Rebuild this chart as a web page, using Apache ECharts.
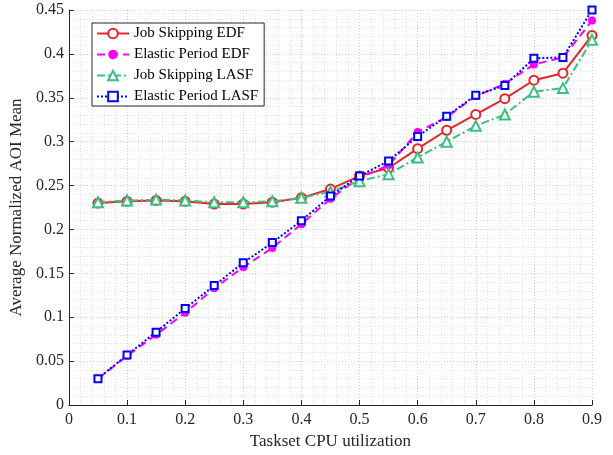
<!DOCTYPE html>
<html>
<head>
<meta charset="utf-8">
<script src="https://cdn.jsdelivr.net/npm/echarts@6/dist/echarts.min.js"></script>
<style>html,body{margin:0;padding:0;background:#fff;}#c{width:613px;height:455px;}</style>
</head>
<body>
<div id="c"></div>
<script>
const utilization = [0.05,0.1,0.15,0.2,0.25,0.3,0.35,0.4,0.45,0.5,0.55,0.6,0.65,0.7,0.75,0.8,0.85,0.9];
const jobSkippingEDF = [0.230,0.232,0.233,0.232,0.229,0.229,0.231,0.236,0.246,0.261,0.270,0.292,0.313,0.331,0.349,0.370,0.378,0.421];
const elasticPeriodEDF = [0.030,0.056,0.080,0.105,0.133,0.157,0.179,0.206,0.235,0.259,0.273,0.311,0.328,0.352,0.366,0.388,0.396,0.438];
const jobSkippingLASF = [0.231,0.233,0.234,0.233,0.231,0.231,0.232,0.236,0.243,0.255,0.263,0.282,0.300,0.318,0.331,0.357,0.361,0.416];
const elasticPeriodLASF = [0.030,0.057,0.083,0.110,0.136,0.162,0.185,0.210,0.238,0.261,0.278,0.306,0.329,0.353,0.364,0.395,0.396,0.450];
const xTickLabels = ['0','0.1','0.2','0.3','0.4','0.5','0.6','0.7','0.8','0.9'];
const yTickLabels = ['0','0.05','0.1','0.15','0.2','0.25','0.3','0.35','0.4','0.45'];
const seriesNames = ['Job Skipping EDF','Elastic Period EDF','Job Skipping LASF','Elastic Period LASF'];

const FONT = 'Liberation Serif, Times New Roman, serif';
const pair = (ys) => utilization.map((x,i)=>[x, ys[i]]);
const chart = echarts.init(document.getElementById('c'), null, {renderer:'canvas'});
const axisCommon = {
  axisLine:{show:true, onZero:false, lineStyle:{color:'#262626', width:1}},
  axisTick:{show:true, inside:true, length:5, lineStyle:{color:'#262626'}},
  minorTick:{show:false, splitNumber:5},
  splitLine:{show:true, lineStyle:{color:'#cccccc', type:[1,2], width:1}},
  minorSplitLine:{show:true, lineStyle:{color:'#e0e0e0', type:[1,2], width:1}},
  axisLabel:{color:'#262626', fontFamily:FONT, fontSize:16},
  nameTextStyle:{color:'#262626', fontFamily:FONT, fontSize:17}
};
chart.setOption({
  animation:false,
  backgroundColor:'#fff',
  grid:{left:67, right:21, top:10, bottom:50, containLabel:false},
  xAxis: Object.assign({}, axisCommon, {
    type:'value', min:0, max:0.9, interval:0.1,
    name:'Taskset CPU utilization', nameLocation:'middle', nameGap:27,
    axisLabel:Object.assign({}, axisCommon.axisLabel, {margin:7, formatter:(v)=>xTickLabels[Math.round(v*10)]})
  }),
  yAxis: Object.assign({}, axisCommon, {
    type:'value', min:0, max:0.45, interval:0.05,
    name:'Average Normalized AOI Mean', nameLocation:'middle', nameGap:35,
    axisLabel:Object.assign({}, axisCommon.axisLabel, {margin:5, formatter:(v)=>yTickLabels[Math.round(v*20)]})
  }),
  legend:{
    orient:'vertical', left:92, top:23,
    backgroundColor:'#fff', borderColor:'#262626', borderWidth:1,
    padding:[3,6,2,4], itemGap:6, itemWidth:32, itemHeight:12,
    textStyle:{color:'#000', fontFamily:FONT, fontSize:15},
    data:seriesNames
  },
  series:[
    {name:seriesNames[0], type:'line', data:pair(jobSkippingEDF), symbol:'emptyCircle', symbolSize:9,
     lineStyle:{color:'#e3262b', width:2, type:'solid'}, itemStyle:{color:'#e3262b', borderWidth:1.6}, z:2},
    {name:seriesNames[1], type:'line', data:pair(elasticPeriodEDF), symbol:'circle', symbolSize:8,
     lineStyle:{color:'#ff00ff', width:2, type:[8,5]}, itemStyle:{color:'#ff00ff'}, z:3},
    {name:seriesNames[2], type:'line', data:pair(jobSkippingLASF), symbol:'emptyTriangle', symbolSize:10,
     lineStyle:{color:'#3dbf7f', width:2, type:[8,3,2,3]}, itemStyle:{color:'#3dbf7f', borderWidth:1.6}, z:4},
    {name:seriesNames[3], type:'line', data:pair(elasticPeriodLASF), symbol:'emptyRect', symbolSize:7,
     lineStyle:{color:'#0000ff', width:2, type:[2,2]}, itemStyle:{color:'#0000ff', borderWidth:2.5}, z:5}
  ]
});
</script>
</body>
</html>
